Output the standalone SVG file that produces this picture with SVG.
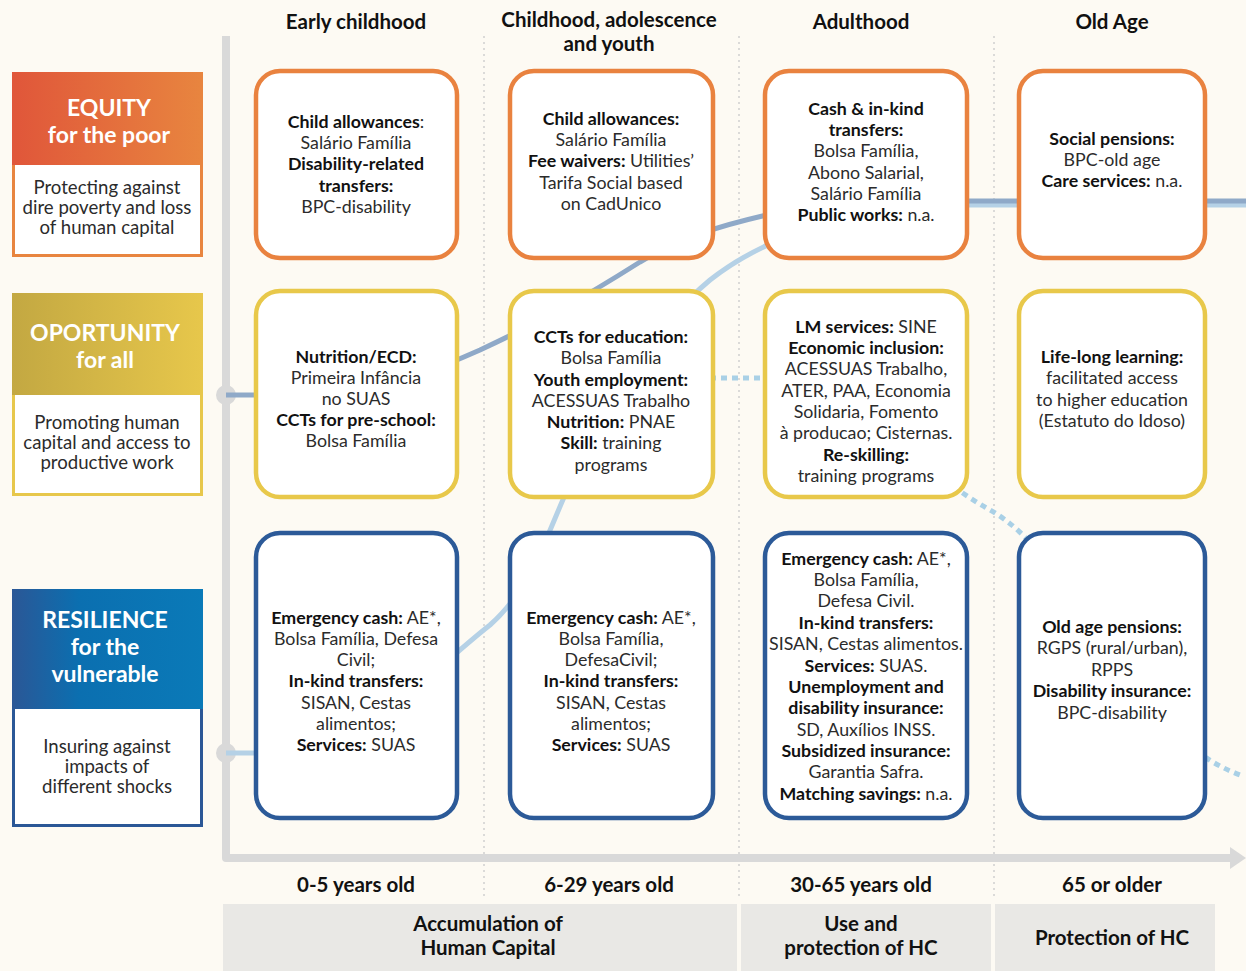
<svg xmlns="http://www.w3.org/2000/svg" width="1246" height="971" viewBox="0 0 1246 971">
<defs>
<linearGradient id="gEq" x1="0" x2="1" y1="0" y2="0"><stop offset="0" stop-color="#e0563a"/><stop offset="1" stop-color="#e8853f"/></linearGradient>
<linearGradient id="gOp" x1="0" x2="1" y1="0" y2="0"><stop offset="0" stop-color="#c3a842"/><stop offset="1" stop-color="#e7c74b"/></linearGradient>
<linearGradient id="gRe" x1="0" x2="1" y1="0" y2="0"><stop offset="0" stop-color="#2b5796"/><stop offset="0.35" stop-color="#0b6fb0"/><stop offset="1" stop-color="#0a7ab8"/></linearGradient>
<style>
.t{font-family:Lato,"Liberation Sans","Noto Sans",sans-serif;font-size:17.8px;fill:#2b2b2b;text-anchor:middle}
.p{font-size:18.6px}
.b{font-weight:700;fill:#111}
.h{font-family:Lato,"Liberation Sans","Noto Sans",sans-serif;font-size:20.5px;font-weight:700;fill:#111;text-anchor:middle}
.w{font-family:Lato,"Liberation Sans","Noto Sans",sans-serif;font-size:23px;font-weight:700;fill:#ffffff;text-anchor:middle}
.box{fill:#ffffff;stroke-width:4.5}
.or{stroke:#e9823f}
.ye{stroke:#e8c84a}
.bl{stroke:#2c5a98}
.sep{stroke:#cfcfcf;stroke-width:1.5;stroke-dasharray:2 4;fill:none}
</style>
</defs>
<rect x="0" y="0" width="1246" height="971" fill="#fdfaf3"/>

<g id="grid">
<line class="sep" x1="484" y1="36" x2="484" y2="900"/>
<line class="sep" x1="739" y1="36" x2="739" y2="900"/>
<line class="sep" x1="994" y1="36" x2="994" y2="900"/>
</g>

<g id="axes">
<path d="M226,36 V858 H1234" fill="none" stroke="#d9d9d9" stroke-width="8" stroke-linejoin="round"/>
<polygon points="1230,847 1246,858 1230,869" fill="#d9d9d9"/>
<circle cx="226" cy="395" r="10" fill="#d9d9d9"/>
<circle cx="226" cy="753" r="10" fill="#d9d9d9"/>
</g>

<g id="connectors" fill="none" stroke-width="5">
<path d="M226,753 H290 C360,753 420,680 490,625 C530,590 545,540 565,495 C610,400 650,330 710,280 C780,225 880,205 968,205 H1246" stroke="#b5d1e6"/>
<path d="M226,395 H300 C380,395 430,372 480,350 C540,322 580,300 640,262 C680,238 720,225 780,212 C840,202 900,201 960,201 H1246" stroke="#8fa9c8"/>
<path d="M600,378 H760 C840,380 910,465 990,510 C1080,560 1120,730 1240,775" stroke="#a9d0e6" stroke-dasharray="6 5"/>
</g>

<g id="headers">
<text class="h" x="356" y="29">Early childhood</text>
<text class="h" x="609" y="27">Childhood, adolescence</text>
<text class="h" x="609" y="51">and youth</text>
<text class="h" x="861" y="29">Adulthood</text>
<text class="h" x="1112" y="29">Old Age</text>
</g>

<g id="equity">
<rect x="13.5" y="73.5" width="188" height="182" fill="#ffffff" stroke="#e8853f" stroke-width="3"/>
<rect x="12" y="72" width="191" height="93" fill="url(#gEq)"/>
<text class="w" x="109" y="116">EQUITY</text>
<text class="w" x="109" y="143">for the poor</text>
<text class="t p" x="107" y="194">Protecting against</text>
<text class="t p" x="107" y="214">dire poverty and loss</text>
<text class="t p" x="107" y="234">of human capital</text>
</g>

<g id="opportunity">
<rect x="13.5" y="294.5" width="188" height="200" fill="#ffffff" stroke="#e7c74b" stroke-width="3"/>
<rect x="12" y="293" width="191" height="102" fill="url(#gOp)"/>
<text class="w" x="105" y="341">OPORTUNITY</text>
<text class="w" x="105" y="368">for all</text>
<text class="t p" x="107" y="429">Promoting human</text>
<text class="t p" x="107" y="449">capital and access to</text>
<text class="t p" x="107" y="469">productive work</text>
</g>

<g id="resilience">
<rect x="13.5" y="590.5" width="188" height="235" fill="#ffffff" stroke="#2b5796" stroke-width="3"/>
<rect x="12" y="589" width="191" height="120" fill="url(#gRe)"/>
<text class="w" x="105" y="628">RESILIENCE</text>
<text class="w" x="105" y="655">for the</text>
<text class="w" x="105" y="682">vulnerable</text>
<text class="t p" x="107" y="753">Insuring against</text>
<text class="t p" x="107" y="773">impacts of</text>
<text class="t p" x="107" y="793">different shocks</text>
</g>

<g id="eq-early">
<rect class="box or" x="256" y="71" width="201" height="187" rx="24"/>
<text class="t" x="356" y="128"><tspan class="b">Child allowances</tspan>:</text>
<text class="t" x="356" y="149">Salário Família</text>
<text class="t b" x="356" y="170">Disability-related</text>
<text class="t b" x="356" y="192">transfers:</text>
<text class="t" x="356" y="213">BPC-disability</text>
</g>

<g id="eq-youth">
<rect class="box or" x="510" y="71" width="203" height="187" rx="24"/>
<text class="t b" x="611" y="125">Child allowances:</text>
<text class="t" x="611" y="146">Salário Família</text>
<text class="t" x="611" y="167"><tspan class="b">Fee waivers:</tspan> Utilities’</text>
<text class="t" x="611" y="189">Tarifa Social based</text>
<text class="t" x="611" y="210">on CadUnico</text>
</g>

<g id="eq-adult">
<rect class="box or" x="765" y="71" width="202" height="187" rx="24"/>
<text class="t b" x="866" y="115">Cash &amp; in-kind</text>
<text class="t b" x="866" y="136">transfers:</text>
<text class="t" x="866" y="157">Bolsa Família,</text>
<text class="t" x="866" y="179">Abono Salarial,</text>
<text class="t" x="866" y="200">Salário Família</text>
<text class="t" x="866" y="221"><tspan class="b">Public works:</tspan> n.a.</text>
</g>

<g id="eq-old">
<rect class="box or" x="1019" y="71" width="186" height="187" rx="24"/>
<text class="t b" x="1112" y="145">Social pensions:</text>
<text class="t" x="1112" y="166">BPC-old age</text>
<text class="t" x="1112" y="187"><tspan class="b">Care services:</tspan> n.a.</text>
</g>

<g id="op-early">
<rect class="box ye" x="256" y="291" width="201" height="206" rx="24"/>
<text class="t b" x="356" y="363">Nutrition/ECD:</text>
<text class="t" x="356" y="384">Primeira Infância</text>
<text class="t" x="356" y="405">no SUAS</text>
<text class="t b" x="356" y="426">CCTs for pre-school:</text>
<text class="t" x="356" y="447">Bolsa Família</text>
</g>

<g id="op-youth">
<rect class="box ye" x="510" y="291" width="203" height="206" rx="24"/>
<text class="t b" x="611" y="343">CCTs for education:</text>
<text class="t" x="611" y="364">Bolsa Família</text>
<text class="t b" x="611" y="386">Youth employment:</text>
<text class="t" x="611" y="407">ACESSUAS Trabalho</text>
<text class="t" x="611" y="428"><tspan class="b">Nutrition:</tspan> PNAE</text>
<text class="t" x="611" y="449"><tspan class="b">Skill:</tspan> training</text>
<text class="t" x="611" y="471">programs</text>
</g>

<g id="op-adult">
<rect class="box ye" x="765" y="291" width="202" height="206" rx="24"/>
<text class="t" x="866" y="333"><tspan class="b">LM services:</tspan> SINE</text>
<text class="t b" x="866" y="354">Economic inclusion:</text>
<text class="t" x="866" y="375">ACESSUAS Trabalho,</text>
<text class="t" x="866" y="397">ATER, PAA, Economia</text>
<text class="t" x="866" y="418">Solidaria, Fomento</text>
<text class="t" x="866" y="439">à producao; Cisternas.</text>
<text class="t b" x="866" y="461">Re-skilling:</text>
<text class="t" x="866" y="482">training programs</text>
</g>

<g id="op-old">
<rect class="box ye" x="1019" y="291" width="186" height="206" rx="24"/>
<text class="t b" x="1112" y="363">Life-long learning:</text>
<text class="t" x="1112" y="384">facilitated access</text>
<text class="t" x="1112" y="406">to higher education</text>
<text class="t" x="1112" y="427">(Estatuto do Idoso)</text>
</g>

<g id="re-early">
<rect class="box bl" x="256" y="533" width="201" height="285" rx="24"/>
<text class="t" x="356" y="624"><tspan class="b">Emergency cash:</tspan> AE*,</text>
<text class="t" x="356" y="645">Bolsa Família, Defesa</text>
<text class="t" x="356" y="666">Civil;</text>
<text class="t b" x="356" y="687">In-kind transfers:</text>
<text class="t" x="356" y="709">SISAN, Cestas</text>
<text class="t" x="356" y="730">alimentos;</text>
<text class="t" x="356" y="751"><tspan class="b">Services:</tspan> SUAS</text>
</g>

<g id="re-youth">
<rect class="box bl" x="510" y="533" width="203" height="285" rx="24"/>
<text class="t" x="611" y="624"><tspan class="b">Emergency cash:</tspan> AE*,</text>
<text class="t" x="611" y="645">Bolsa Família,</text>
<text class="t" x="611" y="666">DefesaCivil;</text>
<text class="t b" x="611" y="687">In-kind transfers:</text>
<text class="t" x="611" y="709">SISAN, Cestas</text>
<text class="t" x="611" y="730">alimentos;</text>
<text class="t" x="611" y="751"><tspan class="b">Services:</tspan> SUAS</text>
</g>

<g id="re-adult">
<rect class="box bl" x="765" y="533" width="202" height="285" rx="24"/>
<text class="t" x="866" y="565"><tspan class="b">Emergency cash:</tspan> AE*,</text>
<text class="t" x="866" y="586">Bolsa Família,</text>
<text class="t" x="866" y="607">Defesa Civil.</text>
<text class="t b" x="866" y="629">In-kind transfers:</text>
<text class="t" x="866" y="650">SISAN, Cestas alimentos.</text>
<text class="t" x="866" y="672"><tspan class="b">Services:</tspan> SUAS.</text>
<text class="t b" x="866" y="693">Unemployment and</text>
<text class="t b" x="866" y="714">disability insurance:</text>
<text class="t" x="866" y="736">SD, Auxílios INSS.</text>
<text class="t b" x="866" y="757">Subsidized insurance:</text>
<text class="t" x="866" y="778">Garantia Safra.</text>
<text class="t" x="866" y="800"><tspan class="b">Matching savings:</tspan> n.a.</text>
</g>

<g id="re-old">
<rect class="box bl" x="1019" y="533" width="186" height="285" rx="24"/>
<text class="t b" x="1112" y="633">Old age pensions:</text>
<text class="t" x="1112" y="654">RGPS (rural/urban),</text>
<text class="t" x="1112" y="676">RPPS</text>
<text class="t b" x="1112" y="697">Disability insurance:</text>
<text class="t" x="1112" y="719">BPC-disability</text>
</g>

<g id="ages">
<text class="h" x="356" y="892">0-5 years old</text>
<text class="h" x="609" y="892">6-29 years old</text>
<text class="h" x="861" y="892">30-65 years old</text>
<text class="h" x="1112" y="892">65 or older</text>
</g>

<g id="phases">
<rect x="223" y="904" width="514" height="67" fill="#e9e8e5"/>
<rect x="741" y="904" width="250" height="67" fill="#e9e8e5"/>
<rect x="995" y="904" width="220" height="67" fill="#e9e8e5"/>
<text class="h" x="488" y="931">Accumulation of</text>
<text class="h" x="488" y="955">Human Capital</text>
<text class="h" x="861" y="931">Use and</text>
<text class="h" x="861" y="955">protection of HC</text>
<text class="h" x="1112" y="945">Protection of HC</text>
</g>
</svg>
